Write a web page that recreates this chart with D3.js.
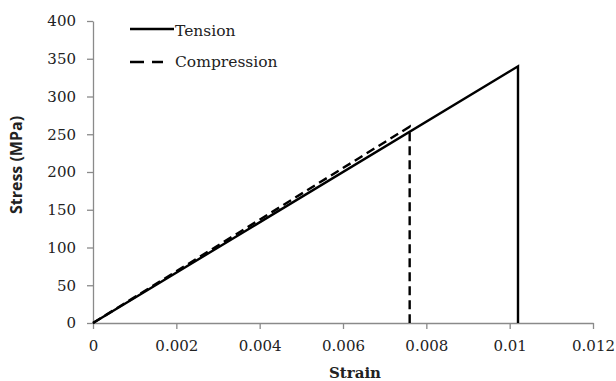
<!DOCTYPE html>
<html><head><meta charset="utf-8">
<script src="https://cdn.jsdelivr.net/npm/d3@7"></script>
<style>body{margin:0;background:#fff}svg{display:block}</style>
</head><body>
<svg id="c" width="616" height="381"></svg>
<script>
const xTicks = [0, 0.002, 0.004, 0.006, 0.008, 0.01, 0.012];
const yTicks = [0, 50, 100, 150, 200, 250, 300, 350, 400];
const seriesNames = ["Tension", "Compression"];
const tensionStrain = [0, 0.0102, 0.0102];
const tensionStress = [0, 340, 0];
const compressionStrain = [0, 0.0076, 0.0076];
const compressionStress = [0, 260, 0];

const svg = d3.select("#c");
const m = {l: 93, r: 23, t: 21, b: 58};
const W = 616, H = 381;
const x = d3.scaleLinear().domain([0, 0.012]).range([m.l, W - m.r]);
const y = d3.scaleLinear().domain([0, 400]).range([H - m.b, m.t]);
const font = "'DejaVu Serif', serif";
const axisColor = "#8a8a8a";

const xa = svg.append("g").attr("transform", `translate(0,${y(0)})`)
  .call(d3.axisBottom(x).tickValues(xTicks).tickSize(6).tickSizeOuter(0).tickPadding(11)
    .tickFormat(d => d === 0 ? "0" : String(+d.toFixed(3))));
const ya = svg.append("g").attr("transform", `translate(${x(0)},0)`)
  .call(d3.axisLeft(y).tickValues(yTicks).tickSize(6).tickSizeOuter(0).tickPadding(11));
[xa, ya].forEach(g => {
  g.selectAll("path,line").attr("stroke", axisColor).attr("stroke-width", 1.3);
  g.selectAll("text").attr("font-family", font).attr("font-size", 15).attr("fill", "#222");
});

const line = d3.line().x(d => x(d[0])).y(d => y(d[1]));
const tData = tensionStrain.map((s, i) => [s, tensionStress[i]]);
const cData = compressionStrain.map((s, i) => [s, compressionStress[i]]);
svg.append("path").datum(cData).attr("d", line).attr("fill", "none")
  .attr("stroke", "#000").attr("stroke-width", 2.4).attr("stroke-dasharray", "9,5");
svg.append("path").datum(tData).attr("d", line).attr("fill", "none")
  .attr("stroke", "#000").attr("stroke-width", 2.4);

// legend
const lg = svg.append("g");
lg.append("line").attr("x1", 130).attr("x2", 174).attr("y1", 29).attr("y2", 29)
  .attr("stroke", "#000").attr("stroke-width", 2.4);
lg.append("line").attr("x1", 130).attr("x2", 163).attr("y1", 62).attr("y2", 62)
  .attr("stroke", "#000").attr("stroke-width", 2.4).attr("stroke-dasharray", "14,8");
lg.append("text").attr("x", 175).attr("y", 36).text(seriesNames[0]);
lg.append("text").attr("x", 175).attr("y", 67).text(seriesNames[1]);
lg.selectAll("text").attr("font-family", font).attr("font-size", 15.5).attr("fill", "#222");

svg.append("text").attr("x", 355).attr("y", 378)
  .attr("text-anchor", "middle").attr("font-family", font).attr("font-weight", "bold")
  .attr("font-size", 15).attr("fill", "#222").text("Strain");
svg.append("text").attr("transform", `translate(22,165) rotate(-90)`)
  .attr("text-anchor", "middle").attr("font-family", "'Open Sans', Lato, sans-serif").attr("font-weight", "bold")
  .attr("font-size", 16).attr("fill", "#222").text("Stress (MPa)");
</script>
</body></html>
